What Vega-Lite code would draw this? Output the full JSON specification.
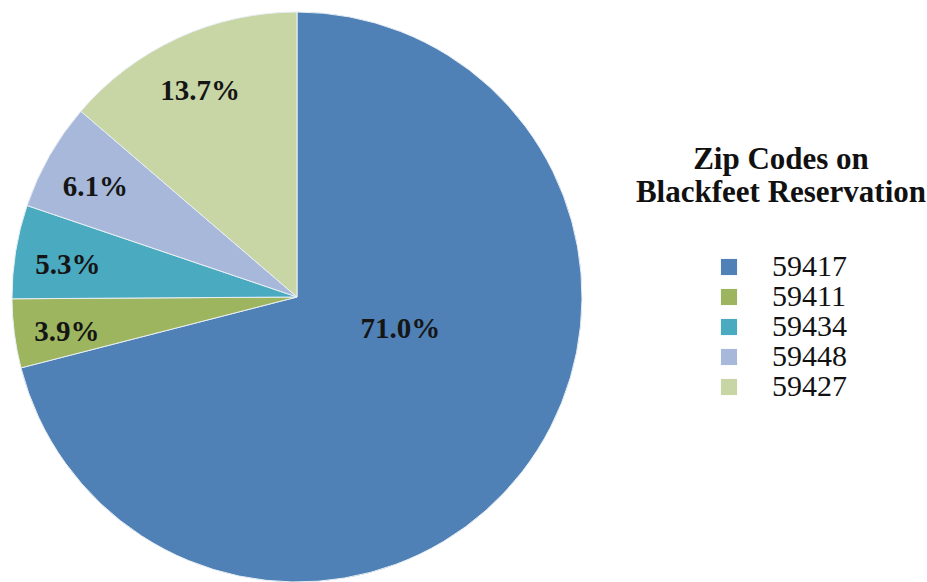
{
  "$schema": "https://vega.github.io/schema/vega-lite/v6.json",
  "width": 594,
  "height": 594,
  "padding": 0,
  "background": "white",
  "view": {"stroke": null},
  "data": {
    "values": [
      {"zip": "59417", "share": 0.710, "ord": 1},
      {"zip": "59411", "share": 0.039, "ord": 2},
      {"zip": "59434", "share": 0.053, "ord": 3},
      {"zip": "59448", "share": 0.061, "ord": 4},
      {"zip": "59427", "share": 0.137, "ord": 5}
    ]
  },
  "encoding": {
    "theta": {"field": "share", "type": "quantitative", "stack": true},
    "order": {"field": "ord", "type": "quantitative"}
  },
  "layer": [
    {
      "mark": {"type": "arc", "outerRadius": 285, "stroke": "#e8eef4", "strokeWidth": 1},
      "encoding": {
        "color": {
          "field": "zip",
          "type": "nominal",
          "sort": ["59417", "59411", "59434", "59448", "59427"],
          "scale": {
            "domain": ["59417", "59411", "59434", "59448", "59427"],
            "range": ["#4f81b6", "#9cb55e", "#4aaac0", "#a7b8da", "#c8d6a5"]
          },
          "legend": {
            "orient": "none",
            "legendX": 636,
            "legendY": 145,
            "padding": 0,
            "title": ["Zip Codes on", "Blackfeet Reservation"],
            "titleFont": "Liberation Serif",
            "titleFontSize": 31,
            "titleFontWeight": "bold",
            "titleColor": "#111111",
            "titleAlign": "center",
            "titleAnchor": "middle",
            "titleLimit": 500,
            "titleLineHeight": 33,
            "titlePadding": 43,
            "labelFont": "Liberation Serif",
            "labelFontSize": 30,
            "labelColor": "#111111",
            "labelOffset": 28,
            "symbolType": "square",
            "symbolSize": 260,
            "symbolStrokeWidth": 0,
            "rowPadding": 0,
            "labelLimit": 300
          }
        }
      }
    },
    {
      "mark": {"type": "text", "radius": 232, "dy": 5, "font": "Liberation Serif", "fontSize": 29, "fontWeight": "bold", "color": "#151515"},
      "encoding": {
        "text": {
          "condition": {"test": "datum.zip === '59417'", "value": ""},
          "field": "share",
          "type": "quantitative",
          "format": ".1%"
        }
      }
    },
    {
      "mark": {"type": "text", "radius": 108, "dx": 18, "dy": -34, "font": "Liberation Serif", "fontSize": 29, "fontWeight": "bold", "color": "#151515"},
      "encoding": {
        "text": {
          "condition": {"test": "datum.zip !== '59417'", "value": ""},
          "field": "share",
          "type": "quantitative",
          "format": ".1%"
        }
      }
    }
  ]
}
